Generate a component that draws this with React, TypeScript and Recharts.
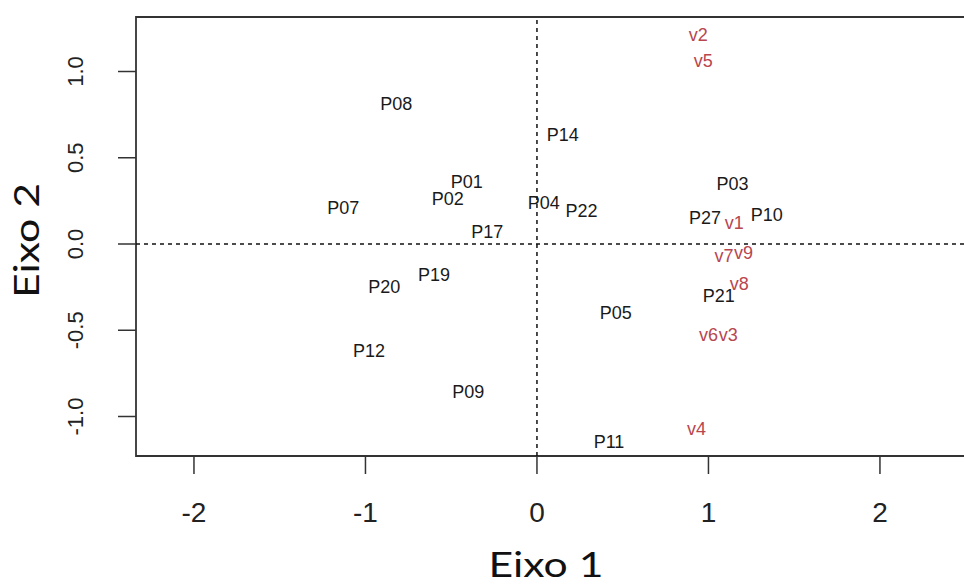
import {
  ScatterChart,
  Scatter,
  XAxis,
  YAxis,
  ReferenceLine,
  ReferenceArea,
} from 'recharts'

// individuals (black labels)
const pLabels = [
  'P01', 'P02', 'P03', 'P04', 'P05', 'P07', 'P08', 'P09', 'P10', 'P11',
  'P12', 'P14', 'P17', 'P19', 'P20', 'P21', 'P22', 'P27',
]
const pX = [
  -0.41, -0.52, 1.14, 0.04, 0.46, -1.13, -0.82, -0.40, 1.34, 0.42,
  -0.98, 0.15, -0.29, -0.60, -0.89, 1.06, 0.26, 0.98,
]
const pY = [
  0.36, 0.26, 0.35, 0.24, -0.40, 0.21, 0.81, -0.86, 0.17, -1.15,
  -0.62, 0.63, 0.07, -0.18, -0.25, -0.30, 0.19, 0.15,
]

// variables (red labels)
const vLabels = ['v1', 'v2', 'v3', 'v4', 'v5', 'v6', 'v7', 'v8', 'v9']
const vX = [1.15, 0.94, 1.115, 0.93, 0.97, 1.0, 1.09, 1.18, 1.205]
const vY = [0.12, 1.21, -0.53, -1.07, 1.06, -0.53, -0.07, -0.23, -0.05]

const xTicks = [-2, -1, 0, 1, 2]
const yTicks = [-1, -0.5, 0, 0.5, 1]

const X_MIN = -2.338
const X_MAX = 2.7
const Y_MIN = -1.229
const Y_MAX = 1.316

const pData = pLabels.map((label, i) => ({ label, x: pX[i], y: pY[i] }))
const vData = vLabels.map((label, i) => ({ label, x: vX[i], y: vY[i] }))

const font = "'Liberation Sans', Arial, sans-serif"
const titleFont = "Lato, 'Open Sans', sans-serif"

function labelShape(color: string) {
  return (props: any) => (
    <text
      x={props.cx}
      y={props.cy}
      textAnchor="middle"
      dominantBaseline="central"
      fontFamily={font}
      fontSize={18}
      fill={color}
    >
      {props.payload.label}
    </text>
  )
}

function XTick(props: any) {
  const { x, y, payload } = props
  return (
    <text x={x} y={y + 46} textAnchor="middle" fontFamily={font} fontSize={28} fill="#222">
      {payload.value}
    </text>
  )
}

function YTick(props: any) {
  const { x, y, payload } = props
  return (
    <text
      x={0}
      y={0}
      transform={`translate(${x - 33},${y}) rotate(-90)`}
      textAnchor="middle"
      fontFamily={font}
      fontSize={22}
      fill="#222"
    >
      {Number(payload.value).toFixed(1)}
    </text>
  )
}

function XTitle(props: any) {
  const { viewBox } = props
  return (
    <text
      x={viewBox.x + 410}
      y={viewBox.y + 121}
      textAnchor="middle"
      fontFamily={titleFont}
      fontSize={35}
      textLength={115}
      lengthAdjust="spacingAndGlyphs"
      fill="#111"
    >
      Eixo 1
    </text>
  )
}

function YTitle(props: any) {
  const { viewBox } = props
  return (
    <text
      x={0}
      y={0}
      transform={`translate(${viewBox.x + 39},${viewBox.y + 223.5}) rotate(-90)`}
      textAnchor="middle"
      fontFamily={titleFont}
      fontSize={35}
      textLength={115}
      lengthAdjust="spacingAndGlyphs"
      fill="#111"
    >
      Eixo 2
    </text>
  )
}

export default function App() {
  return (
    <div
      style={{
        position: 'absolute',
        left: 0,
        top: 0,
        width: 964,
        height: 585,
        overflow: 'hidden',
        background: '#fff',
      }}
    >
      <ScatterChart
        width={1010}
        height={585}
        margin={{ top: 17, right: 10, bottom: 0, left: 0 }}
      >
        <XAxis
          type="number"
          dataKey="x"
          domain={[X_MIN, X_MAX]}
          ticks={xTicks}
          allowDataOverflow
          axisLine={false}
          tickSize={18}
          tickLine={{ stroke: '#333', strokeWidth: 1.5 }}
          tick={<XTick />}
          height={129}
          label={<XTitle />}
        />
        <YAxis
          type="number"
          dataKey="y"
          domain={[Y_MIN, Y_MAX]}
          ticks={yTicks}
          allowDataOverflow
          axisLine={false}
          tickSize={18}
          tickLine={{ stroke: '#333', strokeWidth: 1.5 }}
          tick={<YTick />}
          width={136}
          label={<YTitle />}
        />
        <ReferenceArea
          x1={X_MIN}
          x2={X_MAX}
          y1={Y_MIN}
          y2={Y_MAX}
          fill="none"
          stroke="#333"
          strokeWidth={1.8}
          fillOpacity={0}
        />
        <ReferenceLine x={0} stroke="#111" strokeWidth={1.5} strokeDasharray="4 4" />
        <ReferenceLine y={0} stroke="#111" strokeWidth={1.5} strokeDasharray="4 4" />
        <Scatter data={pData} shape={labelShape('#1a1a1a')} isAnimationActive={false} />
        <Scatter data={vData} shape={labelShape('#b8464f')} isAnimationActive={false} />
      </ScatterChart>
    </div>
  )
}
